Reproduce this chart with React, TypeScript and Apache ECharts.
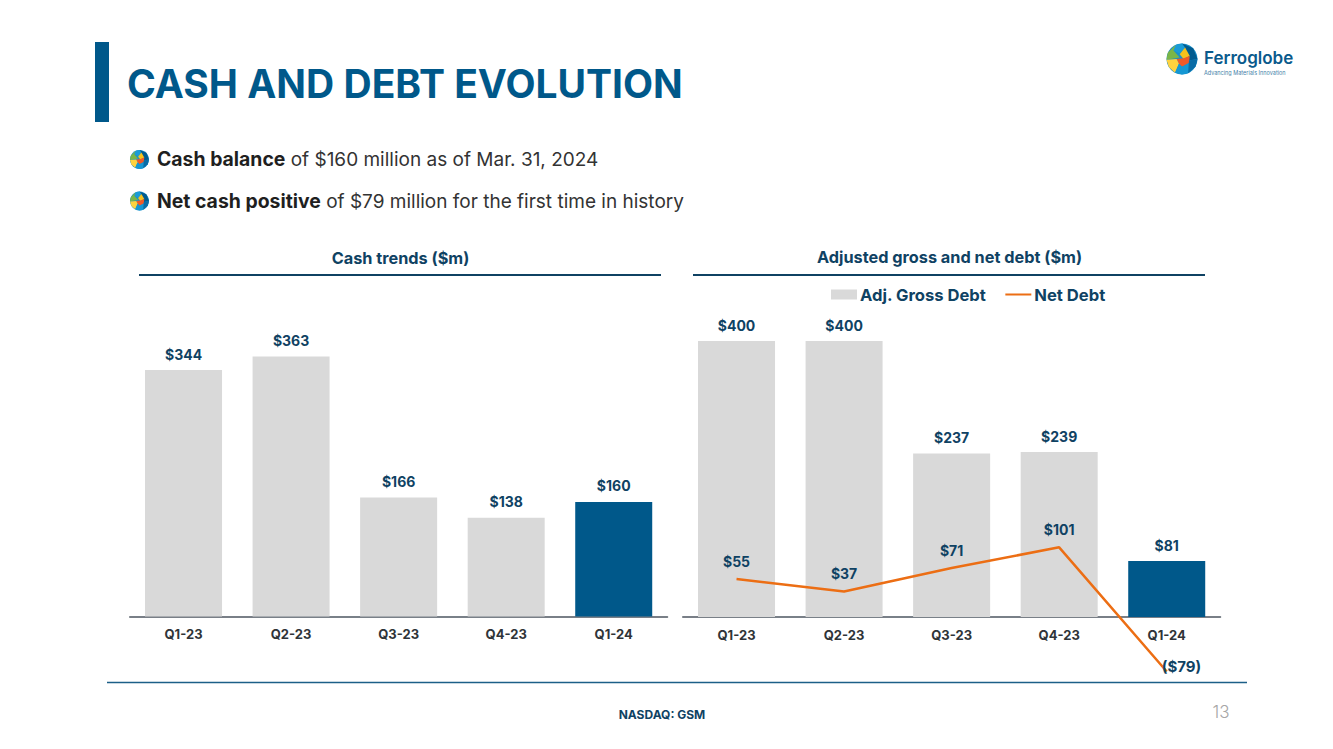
import React, { useEffect, useRef } from "react";
import * as echarts from "echarts";

const quarters = ["Q1-23", "Q2-23", "Q3-23", "Q4-23", "Q1-24"];
const cashValues = [344, 363, 166, 138, 160];
const grossDebtValues = [400, 400, 237, 239, 81];
const netDebtValues = [55, 37, 71, 101, -79];
const grossName = "Adj. Gross Debt";
const netName = "Net Debt";

const NAVY = "#00588a";
const DARK = "#0f4263";
const GREY = "#d9d9d9";
const ORANGE = "#ec6e14";
const FONT = "Inter, Lato, sans-serif";

const money = (v: number) => (v < 0 ? `($${-v})` : `$${v}`);

function globe(cx: number, cy: number, r: number) {
  const a = (dx: number, dy: number) => [cx + dx * r, cy + dy * r];
  const pieces: [string, number[][]][] = [
    ["#005b8f", [a(0, -1), a(0.72, -0.7), a(1, 0), a(0.45, 0.1), a(0.2, -0.55)]],
    ["#1a9bd7", [a(-0.4, -0.92), a(0, -1), a(0.2, -0.75), a(-0.15, -0.35), a(-0.55, -0.55)]],
    ["#7ab648", [a(-0.92, -0.4), a(-0.4, -0.92), a(-0.55, -0.55), a(-0.15, -0.1), a(-1, 0.05)]],
    ["#f7c21c", [a(-0.15, -0.3), a(0.2, -0.75), a(0.5, -0.2), a(0.1, 0)]],
    ["#f05a28", [a(-0.35, 0), a(0.1, -0.05), a(0.5, -0.2), a(0.45, 0.25), a(0, 0.5), a(-0.2, 0.3)]],
    ["#ffd23f", [a(-1, 0.05), a(-0.35, 0), a(-0.2, 0.3), a(-0.45, 0.88), a(-0.85, 0.52)]],
    ["#1597d3", [a(-0.2, 0.3), a(0, 0.5), a(0.45, 0.25), a(0.4, 0.92), a(0, 1), a(-0.45, 0.88)]],
    ["#0a6ca6", [a(0.45, 0.1), a(1, 0), a(0.87, 0.5), a(0.4, 0.92)]],
  ];
  return [
    { type: "circle" as const, shape: { cx, cy, r }, style: { fill: "#1a8fc9" } },
    ...pieces.map(([fill, points]) => ({
      type: "polygon" as const,
      shape: { points },
      style: { fill },
    })),
  ];
}

const text = (x: number, y: number, t: string, font: string, fill: string, align = "left") => ({
  type: "text" as const,
  x,
  y,
  style: { text: t, font, fill, textAlign: align, textVerticalAlign: "middle" },
});

const rule = (x1: number, x2: number, y: number, stroke: string, lineWidth = 2) => ({
  type: "line" as const,
  shape: { x1, y1: y, x2, y2: y },
  style: { stroke, lineWidth },
});

const valueLabel = {
  show: true,
  color: DARK,
  fontFamily: FONT,
  fontWeight: "bold" as const,
  fontSize: 14,
  formatter: (p: { value: number }) => money(p.value),
};

const bullet = (y: number, bold: string, rest: string) => ({
  type: "text" as const,
  x: 157,
  y,
  style: {
    text: `{b|${bold}}{r|${rest}}`,
    font: `19px ${FONT}`,
    fill: "#2b2b2b",
    textVerticalAlign: "middle",
    rich: {
      b: { font: `bold 19.4px ${FONT}`, fill: "#1f1f1f" },
      r: { font: `19px ${FONT}`, fill: "#333333" },
    },
  },
});

const option = {
  animation: false,
  backgroundColor: "#fff",
  textStyle: { fontFamily: FONT },
  legend: {
    left: 831,
    top: 286,
    itemWidth: 26,
    itemHeight: 10,
    itemGap: 19,
    padding: 0,
    data: [
      { name: grossName, icon: "rect" },
      { name: netName, icon: "path://M0 0L26 0L26 0.01Z M0 4H26V6H0Z M0 10L26 10L26 10.01Z" },
    ],
    textStyle: {
      color: DARK,
      fontFamily: FONT,
      fontWeight: "bold",
      fontSize: 16.6,
      padding: [0, 0, 0, -2],
    },
  },
  grid: [
    { left: 129.75, width: 537.75, top: 330, height: 286.5 },
    { left: 682.75, width: 537.75, top: 341, height: 345 },
  ],
  xAxis: [0, 1].map((gridIndex) => ({
    type: "category",
    gridIndex,
    data: quarters,
    axisTick: { show: false },
    axisLine: { onZero: true, lineStyle: { color: "#4d5660", width: 1.5 } },
    axisLabel: {
      color: "#2f3438",
      fontFamily: FONT,
      fontWeight: "bold",
      fontSize: 13,
      margin: gridIndex === 0 ? 11 : -58,
    },
  })),
  yAxis: [
    { type: "value", gridIndex: 0, min: 0, max: 400, show: false, splitLine: { show: false } },
    { type: "value", gridIndex: 1, min: -100, max: 400, show: false, splitLine: { show: false } },
  ],
  series: [
    {
      name: "Cash",
      type: "bar",
      xAxisIndex: 0,
      yAxisIndex: 0,
      barWidth: 77,
      itemStyle: { color: GREY },
      label: { ...valueLabel, position: "top", distance: 9 },
      data: cashValues.map((value, i) =>
        i === cashValues.length - 1 ? { value, itemStyle: { color: NAVY } } : value
      ),
    },
    {
      name: grossName,
      type: "bar",
      xAxisIndex: 1,
      yAxisIndex: 1,
      barWidth: 77,
      itemStyle: { color: GREY },
      label: { ...valueLabel, position: "top", distance: 8.5 },
      data: grossDebtValues.map((value, i) =>
        i === grossDebtValues.length - 1 ? { value, itemStyle: { color: NAVY } } : value
      ),
    },
    {
      name: netName,
      type: "line",
      xAxisIndex: 1,
      yAxisIndex: 1,
      symbol: "circle",
      symbolSize: 0,
      showSymbol: true,
      z: 5,
      lineStyle: { color: ORANGE, width: 2.5 },
      itemStyle: { color: ORANGE },
      label: { ...valueLabel, position: "top", distance: 11 },
      data: netDebtValues.map((value, i) =>
        i === netDebtValues.length - 1
          ? { value, label: { position: "right", distance: -5, offset: [0, -5], fontSize: 15 } }
          : value
      ),
    },
  ],
  graphic: [
    { type: "rect", shape: { x: 95, y: 42, width: 14, height: 80 }, style: { fill: NAVY } },
    text(127, 83, "CASH AND DEBT EVOLUTION", `bold 39px ${FONT}`, NAVY),
    ...globe(139.5, 159.5, 9.5),
    ...globe(139.5, 201, 9.5),
    bullet(159, "Cash balance", " of $160 million as of Mar. 31, 2024"),
    bullet(201, "Net cash positive", " of $79 million for the first time in history"),
    text(400.5, 257.5, "Cash trends ($m)", `bold 16.3px ${FONT}`, DARK, "center"),
    text(949.5, 257, "Adjusted gross and net debt ($m)", `bold 16.3px ${FONT}`, DARK, "center"),
    rule(139, 661, 275, DARK),
    rule(693, 1205, 275, DARK),
    rule(107, 1247, 682.5, "#1c5f88", 1.5),
    text(662, 714.5, "NASDAQ: GSM", `bold 12px ${FONT}`, DARK, "center"),
    text(1221, 712, "13", `300 17px ${FONT}`, "#a6a6a6", "center"),
    ...globe(1182, 59, 15.5),
    text(1204, 58, "Ferroglobe", `600 17px ${FONT}`, "#0a5a8c"),
    text(1204, 73, "Advancing Materials Innovation", `5.5px ${FONT}`, "#3f7fa8"),
  ],
};

export default function App() {
  const ref = useRef<HTMLDivElement>(null);
  useEffect(() => {
    document.body.style.margin = "0";
    const chart = echarts.init(ref.current!, undefined, { renderer: "svg" });
    chart.setOption(option as any);
    return () => chart.dispose();
  }, []);
  return <div ref={ref} style={{ width: 1333, height: 749 }} />;
}
